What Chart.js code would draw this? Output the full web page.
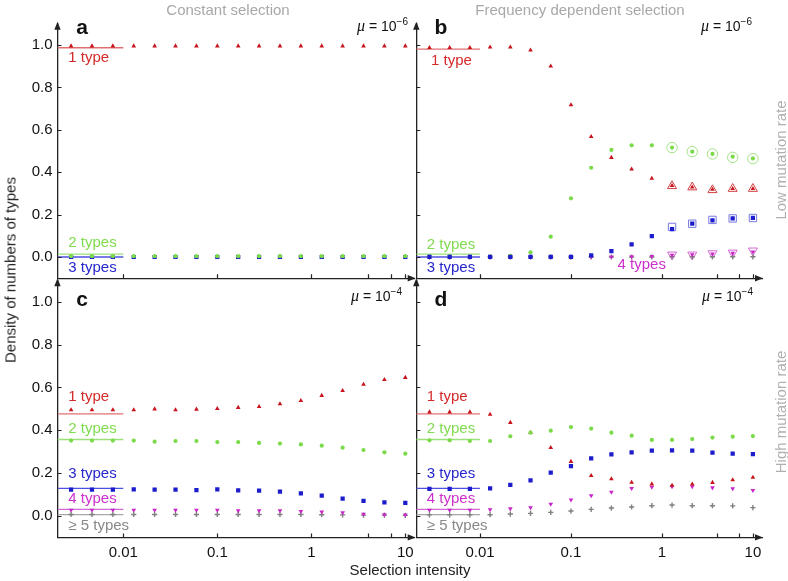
<!DOCTYPE html>
<html><head><meta charset="utf-8">
<script src="https://cdn.jsdelivr.net/npm/chart.js@4.4.0/dist/chart.umd.min.js"></script>
<style>
body{margin:0;background:#fff;width:788px;height:581px;overflow:hidden;position:relative;font-family:"Liberation Sans",Arial,sans-serif;}
canvas{position:absolute;left:0;top:0;}
.t{position:absolute;white-space:nowrap;line-height:1;}
.c{transform:translate(-50%,-50%);}
.r{transform:translate(-50%,-50%) rotate(-90deg);}
.lt{font-weight:bold;font-size:21px;color:#111;transform:translate(-50%,-50%);}
.mu{font-size:14px;color:#111;transform:translateY(-50%);}
.mu i{font-family:"Liberation Serif",serif;font-size:16px;}
.mu sup{font-size:10px;vertical-align:6px;}
</style></head><body>
<canvas id="ca" width="788" height="581"></canvas>
<canvas id="cb" width="788" height="581"></canvas>
<canvas id="cc" width="788" height="581"></canvas>
<canvas id="cd" width="788" height="581"></canvas>

<div class="t c" style="left:228px;top:9px;font-size:15px;color:#a8a8a8;">Constant selection</div>
<div class="t c" style="left:580px;top:9px;font-size:15px;color:#a8a8a8;">Frequency dependent selection</div>
<div class="t r" style="left:10px;top:270px;font-size:15px;color:#222;">Density of numbers of types</div>
<div class="t c" style="left:410px;top:569px;font-size:15px;color:#222;">Selection intensity</div>
<div class="t r" style="left:780px;top:160px;font-size:15px;color:#b0b0b0;">Low mutation rate</div>
<div class="t r" style="left:780px;top:412px;font-size:15px;color:#b0b0b0;">High mutation rate</div>
<div class="t lt" style="left:82px;top:26px;">a</div>
<div class="t lt" style="left:441px;top:26px;">b</div>
<div class="t lt" style="left:82px;top:298px;">c</div>
<div class="t lt" style="left:441px;top:298px;">d</div>
<div class="t mu" style="right:380px;top:25px;"><i>μ</i> = 10<sup>−6</sup></div>
<div class="t mu" style="right:36px;top:25px;"><i>μ</i> = 10<sup>−6</sup></div>
<div class="t mu" style="right:386px;top:295px;"><i>μ</i> = 10<sup>−4</sup></div>
<div class="t mu" style="right:35px;top:295px;"><i>μ</i> = 10<sup>−4</sup></div>

<script>
// ---- data ----
const selection = [0.002783,0.004642,0.007743,0.012915,0.021544,0.035938,0.059948,0.1,0.16681,0.27826,0.46416,0.77426,1.2915,2.1544,3.5938,5.9948,10];
const xTicks = [0.01,0.1,1,10];
const xTickLabels = ['0.01','0.1','1','10'];
const xMinorTicks = [4,7];
const yTicks = [0,0.2,0.4,0.6,0.8,1.0];
const yTickLabels = ['0.0','0.2','0.4','0.6','0.8','1.0'];
const neutralSpan = [0.001995,0.01];

// panel a: constant selection, mu=1e-6
const aOne   = [0.995,0.995,0.995,0.995,0.995,0.995,0.995,0.995,0.995,0.995,0.995,0.995,0.995,0.995,0.995,0.995,0.995];
const aTwo   = [0.004,0.004,0.004,0.004,0.004,0.004,0.004,0.004,0.004,0.004,0.004,0.004,0.004,0.004,0.004,0.004,0.004];
const aThree = [0,0,0,0,0,0,0,0,0,0,0,0,0,0,0,0,0];
const aNeutral = [0.987,0.014,0.0];

// panel b: frequency dependent selection, mu=1e-6
const bOne   = [0.987,0.987,0.987,0.99,0.99,0.976,0.90,0.717,0.568,0.469,0.414,0.371,0.336,0.329,0.319,0.322,0.322];
const bTwo   = [0.002,0.002,0.002,0.002,0.005,0.022,0.096,0.277,0.421,0.505,0.527,0.527,0.516,0.497,0.486,0.473,0.465];
const bThree = [0.001,0.001,0.001,0.001,0.001,0.001,0.001,0.001,0.008,0.028,0.06,0.099,0.132,0.157,0.173,0.182,0.184];
const bFour  = [0,0,0,0,0,0,0,0,0.001,0.001,0.002,0.003,0.009,0.011,0.015,0.018,0.024];
const bFive  = [0,0,0,0,0,0,0,0,0,0,0,0,0.001,0.001,0.001,0.001,0.001];
const bTheorySel   = [1.2915,2.1544,3.5938,5.9948,10];
const bTheoryOne   = [0.335,0.329,0.316,0.322,0.322];
const bTheoryTwo   = [0.516,0.497,0.486,0.470,0.464];
const bTheoryThree = [0.142,0.157,0.175,0.182,0.184];
const bTheoryFour  = [0.011,0.011,0.017,0.020,0.030];
const bNeutral = [0.981,0.014,0.0];

// panel c: constant selection, mu=1e-4
const cOne   = [0.495,0.495,0.495,0.495,0.499,0.495,0.498,0.501,0.506,0.51,0.523,0.538,0.562,0.585,0.614,0.636,0.646];
const cTwo   = [0.352,0.352,0.352,0.352,0.347,0.35,0.35,0.345,0.345,0.341,0.338,0.334,0.328,0.319,0.308,0.297,0.291];
const cThree = [0.123,0.123,0.123,0.124,0.123,0.123,0.121,0.124,0.12,0.118,0.114,0.106,0.095,0.081,0.07,0.064,0.061];
const cFour  = [0.028,0.028,0.028,0.028,0.028,0.028,0.028,0.028,0.025,0.025,0.025,0.022,0.019,0.016,0.009,0.006,0.005];
const cFive  = [0.007,0.007,0.007,0.007,0.007,0.007,0.007,0.007,0.007,0.007,0.007,0.007,0.006,0.005,0.004,0.004,0.003];
const cdNeutral = [0.477,0.357,0.129,0.031,0.006];

// panel d: frequency dependent selection, mu=1e-4
const dOne   = [0.485,0.485,0.485,0.474,0.436,0.389,0.319,0.254,0.188,0.173,0.157,0.149,0.143,0.148,0.156,0.168,0.18];
const dTwo   = [0.353,0.353,0.35,0.35,0.372,0.389,0.398,0.415,0.408,0.389,0.375,0.355,0.355,0.359,0.366,0.37,0.373];
const dThree = [0.126,0.126,0.126,0.129,0.145,0.166,0.202,0.233,0.269,0.288,0.297,0.305,0.306,0.305,0.296,0.291,0.289];
const dFour  = [0.028,0.028,0.028,0.03,0.034,0.039,0.056,0.075,0.095,0.112,0.129,0.135,0.137,0.137,0.132,0.128,0.12];
const dFive  = [0.005,0.005,0.005,0.006,0.009,0.012,0.017,0.023,0.031,0.037,0.042,0.048,0.051,0.048,0.048,0.047,0.039];

// ---- style ----
const COL = {
  one:'#c8141c', two:'#7ada48', three:'#1c1ccc', four:'#c824c8', five:'#808080'
};
const LINECOL = ['#e07070','#9ce07e','#5050e0','#d468d4','#a8a8a8'];
const TXTCOL  = ['#d42a2a','#80dc50','#2626cc','#cc30cc','#888888'];
const FONT = '"Liberation Sans", Arial, sans-serif';

function pts(xs, ys){ return xs.map((x,i)=>({x, y:ys[i]})); }

function series(ys, kind, order){
  const base = {type:'scatter', data:pts(selection,ys), showLine:false, borderWidth:0};
  let d;
  if(kind==='one') d = Object.assign(base,{pointStyle:'triangle',pointRadius:2.7,backgroundColor:COL.one,borderColor:COL.one,order:3});
  if(kind==='two') d = Object.assign(base,{pointStyle:'circle',pointRadius:2.1,backgroundColor:COL.two,borderColor:COL.two,order:2});
  if(kind==='three') d = Object.assign(base,{pointStyle:'rect',pointRadius:3.0,backgroundColor:COL.three,borderColor:COL.three,order:1});
  if(kind==='four') d = Object.assign(base,{pointStyle:'triangle',rotation:180,pointRadius:2.7,backgroundColor:COL.four,borderColor:COL.four,order:4});
  if(kind==='five') d = Object.assign(base,{pointStyle:'cross',pointRadius:2.6,borderWidth:1.4,backgroundColor:COL.five,borderColor:COL.five,order:5});
  if(order !== undefined) d.order = order;
  return d;
}
function hollow(ys, style, color, rot){
  return {type:'scatter', data:pts(bTheorySel,ys), showLine:false, pointStyle:style, rotation:rot||0,
    pointRadius:5.2, borderWidth:1, borderColor:color, backgroundColor:'rgba(0,0,0,0)', order:6};
}
function neutral(levels){
  return levels.map((v,i)=>({type:'line', data:neutralSpan.map(x=>({x, y:v})), borderColor:LINECOL[i],
    borderWidth:1.3, pointRadius:0, order:10}));
}

function decor(labels){
  return {
    id:'decor',
    afterDraw(chart){
      const {ctx, chartArea:a, scales:{x,y}} = chart;
      ctx.save();
      ctx.strokeStyle='#222'; ctx.lineWidth=1.2;
      ctx.beginPath();
      yTicks.forEach(v=>{const py=Math.round(y.getPixelForValue(v))+0.5; ctx.moveTo(a.left,py); ctx.lineTo(a.left+4,py);});
      xTicks.concat(xMinorTicks).forEach(v=>{const px=Math.round(x.getPixelForValue(v))+0.5; ctx.moveTo(px,a.bottom); ctx.lineTo(px,a.bottom-4);});
      ctx.stroke();
      ctx.fillStyle='#222';
      ctx.beginPath(); ctx.moveTo(a.right+1,a.bottom); ctx.lineTo(a.right-7,a.bottom-3.2); ctx.lineTo(a.right-7,a.bottom+3.2); ctx.closePath(); ctx.fill();
      ctx.beginPath(); ctx.moveTo(a.left,a.top-2); ctx.lineTo(a.left-3.2,a.top+6); ctx.lineTo(a.left+3.2,a.top+6); ctx.closePath(); ctx.fill();
      ctx.font = '15px '+FONT;
      ctx.textBaseline='middle';
      labels.forEach(l=>{
        ctx.fillStyle=TXTCOL[l.c]; ctx.textAlign=l.align||'left';
        ctx.fillText(l.text, x.getPixelForValue(l.x), y.getPixelForValue(l.y));
      });
      ctx.restore();
    }
  };
}

function panel(id, area, datasets, showX, showY, labels){
  const YW = 50, XH = 36;
  new Chart(document.getElementById(id), {
    type:'scatter',
    data:{datasets},
    options:{
      responsive:false, animation:false, devicePixelRatio:1,
      layout:{padding:{left:area.l-YW, right:788-area.r, top:area.t, bottom:581-area.b-XH}},
      plugins:{legend:{display:false}, tooltip:{enabled:false}},
      scales:{
        x:{type:'logarithmic', min:0.001995, max:12.589, position:'bottom',
          afterBuildTicks:s=>{ s.ticks = xTicks.map(v=>({value:v})); },
          afterFit:s=>{ s.height = XH; },
          grid:{display:false, drawTicks:false},
          border:{display:true, color:'#222', width:1.3},
          ticks:{display:showX, autoSkip:false, maxRotation:0, padding:6, color:'#111',
            font:{size:15, family:FONT}, callback:(v,i)=>xTickLabels[i]}
        },
        y:{type:'linear', min:-0.1, max:1.1, position:'left',
          afterBuildTicks:s=>{ s.ticks = yTicks.map(v=>({value:v})); },
          afterFit:s=>{ s.width = YW; },
          grid:{display:false, drawTicks:false},
          border:{display:true, color:'#222', width:1.3},
          ticks:{display:showY, padding:5, color:'#111',
            font:{size:15, family:FONT}, callback:(v,i)=>yTickLabels[i]}
        }
      }
    },
    plugins:[decor(labels)]
  });
}

const rowTop = {t:23.8, b:278.2}, rowBot = {t:280.3, b:537.4};
const colLeft = {l:57.5, r:414.7}, colRight = {l:416.3, r:762};

panel('ca', Object.assign({},colLeft,rowTop),
  [series(aThree,'three',2), series(aTwo,'two',1), series(aOne,'one')].concat(neutral(aNeutral)),
  false, true,
  [{text:'1 type',c:0,x:0.0026,y:0.937},{text:'2 types',c:1,x:0.0026,y:0.066},{text:'3 types',c:2,x:0.0026,y:-0.052}]);

panel('cb', Object.assign({},colRight,rowTop),
  [series(bThree,'three'), series(bTwo,'two'), series(bOne,'one'), series(bFour,'four'), series(bFive,'five'),
   hollow(bTheoryOne,'triangle','#d04040'), hollow(bTheoryTwo,'circle','#a2e286'), hollow(bTheoryThree,'rect','#7878e2'), hollow(bTheoryFour,'triangle','#d468d4',180)
  ].concat(neutral(bNeutral)),
  false, false,
  [{text:'1 type',c:0,x:0.0029,y:0.923},{text:'2 types',c:1,x:0.0026,y:0.058},{text:'3 types',c:2,x:0.0026,y:-0.052},{text:'4 types',c:3,x:0.6,y:-0.038,align:'center'}]);

panel('cc', Object.assign({},colLeft,rowBot),
  [series(cThree,'three'), series(cTwo,'two'), series(cOne,'one'), series(cFour,'four'), series(cFive,'five')].concat(neutral(cdNeutral)),
  true, true,
  [{text:'1 type',c:0,x:0.0026,y:0.555},{text:'2 types',c:1,x:0.0026,y:0.406},{text:'3 types',c:2,x:0.0026,y:0.196},{text:'4 types',c:3,x:0.0026,y:0.079},{text:'≥ 5 types',c:4,x:0.0026,y:-0.047}]);

panel('cd', Object.assign({},colRight,rowBot),
  [series(dThree,'three'), series(dTwo,'two'), series(dOne,'one'), series(dFour,'four'), series(dFive,'five')].concat(neutral(cdNeutral)),
  true, false,
  [{text:'1 type',c:0,x:0.0026,y:0.555},{text:'2 types',c:1,x:0.0026,y:0.406},{text:'3 types',c:2,x:0.0026,y:0.196},{text:'4 types',c:3,x:0.0026,y:0.079},{text:'≥ 5 types',c:4,x:0.0026,y:-0.047}]);
</script>
</body></html>
